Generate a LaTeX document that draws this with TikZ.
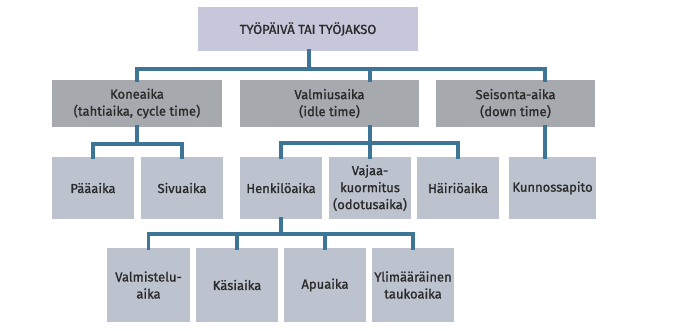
\documentclass[tikz,border=0pt]{standalone}
\usepackage{fontspec}
\setmainfont[FakeBold=1]{Fira Sans}
\definecolor{topc}{HTML}{C6C7DA}
\definecolor{lvone}{HTML}{A6A9AD}
\definecolor{lvtwo}{HTML}{BCC3CE}
\definecolor{connc}{HTML}{3C7596}
\definecolor{txtc}{HTML}{2A2A2A}
\begin{document}
\begin{tikzpicture}[x=1pt,y=-1pt,
  box/.style={draw=none,inner sep=0pt,align=center,text=txtc,font=\fontsize{13}{17}\selectfont},
  topbox/.style={box,fill=topc,minimum width=220pt,minimum height=44pt},
  onebox/.style={box,fill=lvone,minimum height=47pt},
  twobox/.style={box,fill=lvtwo,minimum height=62pt,minimum width=82pt},
  threebox/.style={box,fill=lvtwo,minimum height=74pt,minimum width=82pt},
  conn/.style={draw=connc,line width=3.5pt,line cap=rect}]
\useasboundingbox (0,0) rectangle (690,330);
\fill[white] (0,0) rectangle (690,330);
\node[topbox] (top) at (308,29) {TYÖPÄIVÄ TAI TYÖJAKSO};
\node[onebox,minimum width=170pt] (kone) at (137,103.5) {Koneaika\\(tahtiaika, cycle time)};
\node[onebox,minimum width=179pt] (valm) at (329.5,103.5) {Valmiusaika\\(idle time)};
\node[onebox,minimum width=159pt] (seis) at (515.5,103.5) {Seisonta-aika\\(down time)};
\node[twobox] (paa) at (93,188) {Pääaika};
\node[twobox] (siv) at (182,188) {Sivuaika};
\node[twobox] (henk) at (281,188) {Henkilöaika};
\node[twobox] (vaja) at (370,188) {Vajaa-\\kuormitus\\(odotusaika)};
\node[twobox] (hair) at (458,188) {Häiriöaika};
\node[twobox,minimum width=87pt] (kunn) at (552.5,188) {Kunnossapito};
\node[threebox,minimum width=83pt] (valt) at (148.5,285) {Valmistelu-\\aika};
\node[threebox] (kasi) at (237,285) {Käsiaika};
\node[threebox] (apu) at (325,285) {Apuaika};
\node[threebox] (ylim) at (413,285) {Ylimääräinen\\taukoaika};
% level 0 -> 1
\coordinate (j0) at (309,69);
\coordinate (sj) at (545,69);
\draw[conn] (top.south -| j0) -- (j0);
\draw[conn] (kone.north) |- (sj) -- (seis.north -| sj);
\draw[conn] (valm.north -| vaja) -- (vaja |- j0);
% level 1 -> 2
\coordinate (k2) at (137,144);
\draw[conn] (kone.south) -- (k2);
\draw[conn] (paa.north) |- (k2) -| (siv.north);
\coordinate (v2) at (370,143);
\draw[conn] (valm.south -| vaja) -- (vaja.north);
\draw[conn] (henk.north) |- (v2) -| (hair.north);
\draw[conn] (seis.south -| sj) -- (kunn.north -| sj);
% level 2 -> 3
\coordinate (h3) at (281,234);
\draw[conn] (henk.south) -- (h3);
\draw[conn] (valt.north) |- (h3) -| (ylim.north);
\draw[conn] (kasi.north) -- (kasi |- h3);
\draw[conn] (apu.north) -- (apu |- h3);
\end{tikzpicture}
\end{document}
